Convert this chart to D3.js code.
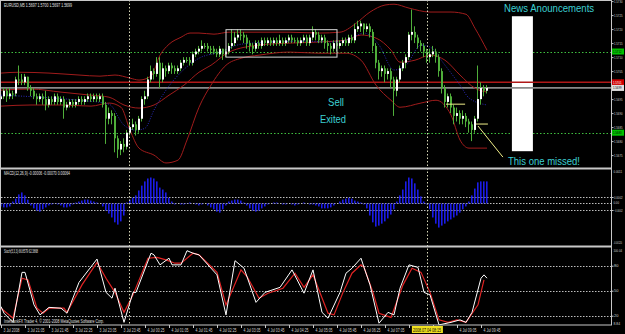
<!DOCTYPE html>
<html>
<head>
<meta charset="utf-8">
<script src="https://cdn.jsdelivr.net/npm/d3@7"></script>
<style>
html, body { margin: 0; padding: 0; background: #000; }
svg { display: block; }
text { font-family: "Liberation Sans", Arial, sans-serif; }
</style>
</head>
<body>
<svg id="chart" width="625" height="334"></svg>
<script>
// EURUSD M5, 3-4 Jul 2008 (163 bars)
const candleClose = [
  1.5696,1.5698,1.5696,1.5697,1.5697,1.5702,1.5702,1.5701,1.5703,1.5699,
  1.5698,1.5696,1.5695,1.5696,1.5695,1.5693,1.5695,1.5694,1.5696,1.5694,
  1.5695,1.5692,1.5693,1.5694,1.5693,1.5694,1.5695,1.5694,1.5695,1.5696,
  1.5695,1.5696,1.5695,1.5696,1.5693,1.5688,1.5690,1.5689,1.5681,1.5677,
  1.5679,1.5678,1.5683,1.5685,1.5686,1.5684,1.5688,1.5695,1.5696,1.5702,
  1.5705,1.5704,1.5708,1.5702,1.5706,1.5705,1.5707,1.5706,1.5705,1.5706,
  1.5708,1.5709,1.5709,1.5708,1.5711,1.5712,1.5713,1.5714,1.5714,1.5713,
  1.5713,1.5712,1.5711,1.5713,1.5711,1.5712,1.5714,1.5715,1.5717,1.5718,
  1.5718,1.5717,1.5715,1.5714,1.5713,1.5715,1.5714,1.5716,1.5715,1.5716,
  1.5715,1.5716,1.5715,1.5716,1.5715,1.5716,1.5717,1.5716,1.5716,1.5715,
  1.5716,1.5717,1.5715,1.5717,1.5719,1.5718,1.5716,1.5717,1.5715,1.5714,
  1.5713,1.5715,1.5714,1.5715,1.5716,1.5715,1.5717,1.5716,1.5720,1.5721,
  1.5722,1.5720,1.5721,1.5719,1.5714,1.5708,1.5705,1.5706,1.5704,1.5705,
  1.5702,1.5698,1.5702,1.5706,1.5708,1.5710,1.5718,1.5719,1.5717,1.5715,
  1.5714,1.5712,1.5710,1.5711,1.5712,1.5710,1.5705,1.5699,1.5694,1.5696,
  1.5692,1.5689,1.5690,1.5688,1.5689,1.5687,1.5686,1.5684,1.5688,1.5695,
  1.5699,1.5698,1.5699
];
const candleOpen = [
  1.5695,1.5696,1.5698,1.5696,1.5697,1.5697,1.5702,1.5702,1.5701,1.5703,
  1.5699,1.5698,1.5696,1.5695,1.5696,1.5695,1.5693,1.5695,1.5694,1.5696,
  1.5694,1.5695,1.5692,1.5693,1.5694,1.5693,1.5694,1.5695,1.5694,1.5695,
  1.5696,1.5695,1.5696,1.5695,1.5696,1.5693,1.5688,1.5690,1.5689,1.5681,
  1.5677,1.5679,1.5678,1.5683,1.5685,1.5686,1.5684,1.5688,1.5695,1.5696,
  1.5702,1.5705,1.5704,1.5708,1.5702,1.5706,1.5705,1.5707,1.5706,1.5705,
  1.5706,1.5708,1.5709,1.5709,1.5708,1.5711,1.5712,1.5713,1.5714,1.5714,
  1.5713,1.5713,1.5712,1.5711,1.5713,1.5711,1.5712,1.5714,1.5715,1.5717,
  1.5718,1.5718,1.5717,1.5715,1.5714,1.5713,1.5715,1.5714,1.5716,1.5715,
  1.5716,1.5715,1.5716,1.5715,1.5716,1.5715,1.5716,1.5717,1.5716,1.5716,
  1.5715,1.5716,1.5717,1.5715,1.5717,1.5719,1.5718,1.5716,1.5717,1.5715,
  1.5714,1.5713,1.5715,1.5714,1.5715,1.5716,1.5715,1.5717,1.5716,1.5720,
  1.5721,1.5722,1.5720,1.5721,1.5719,1.5714,1.5708,1.5705,1.5706,1.5704,
  1.5705,1.5702,1.5698,1.5702,1.5706,1.5708,1.5710,1.5718,1.5719,1.5717,
  1.5715,1.5714,1.5712,1.5710,1.5711,1.5712,1.5710,1.5705,1.5699,1.5694,
  1.5696,1.5692,1.5689,1.5690,1.5688,1.5689,1.5687,1.5686,1.5684,1.5688,
  1.5695,1.5699,1.5698
];
const candleHigh = [
  1.5698,1.5699,1.5699,1.5699,1.5698,1.5703,1.5707,1.5704,1.5704,1.5703,
  1.5700,1.5699,1.5697,1.5697,1.5697,1.5698,1.5696,1.5696,1.5697,1.5697,
  1.5696,1.5696,1.5694,1.5695,1.5695,1.5695,1.5696,1.5696,1.5696,1.5697,
  1.5697,1.5697,1.5697,1.5697,1.5697,1.5694,1.5692,1.5691,1.5690,1.5682,
  1.5680,1.5681,1.5684,1.5687,1.5688,1.5687,1.5689,1.5696,1.5698,1.5703,
  1.5707,1.5706,1.5710,1.5710,1.5708,1.5707,1.5708,1.5708,1.5707,1.5707,
  1.5709,1.5710,1.5710,1.5710,1.5712,1.5713,1.5714,1.5716,1.5715,1.5715,
  1.5714,1.5714,1.5713,1.5714,1.5713,1.5713,1.5715,1.5720,1.5719,1.5720,
  1.5720,1.5719,1.5718,1.5716,1.5715,1.5716,1.5716,1.5717,1.5717,1.5717,
  1.5717,1.5717,1.5717,1.5718,1.5717,1.5717,1.5718,1.5718,1.5717,1.5717,
  1.5717,1.5718,1.5718,1.5718,1.5721,1.5720,1.5719,1.5718,1.5718,1.5716,
  1.5715,1.5716,1.5716,1.5716,1.5717,1.5717,1.5718,1.5718,1.5722,1.5723,
  1.5723,1.5722,1.5722,1.5722,1.5720,1.5715,1.5709,1.5707,1.5707,1.5706,
  1.5706,1.5703,1.5703,1.5707,1.5709,1.5711,1.5719,1.5727,1.5721,1.5718,
  1.5716,1.5715,1.5713,1.5713,1.5714,1.5713,1.5711,1.5706,1.5700,1.5697,
  1.5697,1.5693,1.5692,1.5691,1.5691,1.5690,1.5688,1.5687,1.5689,1.5707,
  1.5701,1.5700,1.5700
];
const candleLow = [
  1.5694,1.5695,1.5694,1.5695,1.5695,1.5696,1.5700,1.5700,1.5700,1.5698,
  1.5696,1.5695,1.5693,1.5694,1.5693,1.5691,1.5692,1.5693,1.5693,1.5693,
  1.5693,1.5688,1.5691,1.5692,1.5692,1.5692,1.5693,1.5693,1.5693,1.5694,
  1.5694,1.5694,1.5694,1.5694,1.5692,1.5679,1.5686,1.5686,1.5676,1.5674,
  1.5675,1.5676,1.5677,1.5682,1.5684,1.5682,1.5683,1.5687,1.5693,1.5695,
  1.5701,1.5702,1.5703,1.5699,1.5701,1.5703,1.5704,1.5704,1.5704,1.5704,
  1.5705,1.5707,1.5708,1.5707,1.5707,1.5710,1.5711,1.5712,1.5713,1.5712,
  1.5711,1.5711,1.5710,1.5710,1.5709,1.5710,1.5711,1.5713,1.5714,1.5716,
  1.5716,1.5715,1.5713,1.5712,1.5711,1.5712,1.5713,1.5713,1.5714,1.5714,
  1.5714,1.5714,1.5714,1.5714,1.5714,1.5714,1.5715,1.5715,1.5715,1.5714,
  1.5714,1.5715,1.5714,1.5714,1.5716,1.5716,1.5715,1.5715,1.5713,1.5712,
  1.5711,1.5712,1.5712,1.5713,1.5714,1.5714,1.5714,1.5715,1.5715,1.5719,
  1.5719,1.5718,1.5719,1.5717,1.5712,1.5706,1.5702,1.5703,1.5701,1.5702,
  1.5699,1.5689,1.5696,1.5701,1.5705,1.5706,1.5709,1.5716,1.5715,1.5713,
  1.5712,1.5710,1.5708,1.5708,1.5710,1.5708,1.5703,1.5697,1.5692,1.5692,
  1.5690,1.5686,1.5687,1.5686,1.5686,1.5685,1.5683,1.5680,1.5683,1.5687,
  1.5693,1.5696,1.5697
];

// Bollinger bands and moving average, [bar, price]
const bbUpper = [[0,1.57043],[6,1.57046],[16,1.57043],[26,1.57036],[33,1.57032],[38,1.57036],[43,1.57025],[46,1.57018],[50,1.57032],[53,1.57107],[56,1.57146],[60,1.57171],[63,1.57186],[66,1.57186],[71,1.57182],[76,1.57189],[86,1.57189],[96,1.57189],[106,1.57186],[113,1.57189],[118,1.57218],[123,1.57261],[128,1.57286],[131,1.57289],[136,1.57275],[143,1.57261],[150,1.57261],[155,1.57253],[158,1.57203],[162,1.57125]];
const bbMiddle = [[0,1.56982],[10,1.56986],[20,1.56975],[30,1.56964],[36,1.56957],[41,1.56929],[46,1.56918],[51,1.56929],[56,1.56964],[61,1.57000],[66,1.57046],[70,1.57071],[76,1.57118],[86,1.57143],[96,1.57150],[106,1.57154],[115,1.57161],[120,1.57179],[125,1.57168],[130,1.57125],[133,1.57082],[138,1.57089],[143,1.57107],[148,1.57089],[153,1.57036],[158,1.56989],[162,1.56975]];
const bbLower = [[0,1.56925],[10,1.56929],[20,1.56929],[30,1.56925],[36,1.56936],[40,1.56921],[43,1.56839],[46,1.56775],[51,1.56750],[55,1.56722],[59,1.56732],[62,1.56804],[66,1.56921],[70,1.57000],[75,1.57071],[80,1.57096],[86,1.57107],[96,1.57118],[106,1.57114],[115,1.57114],[120,1.57089],[125,1.57000],[130,1.56946],[133,1.56921],[140,1.56936],[145,1.56946],[150,1.56893],[153,1.56804],[156,1.56775],[162,1.56775]];
const maBlue = [[0,1.56964],[13,1.56957],[26,1.56946],[36,1.56932],[41,1.56857],[45,1.56839],[48,1.56846],[51,1.56911],[55,1.56982],[60,1.57046],[66,1.57096],[73,1.57118],[80,1.57146],[90,1.57154],[100,1.57157],[110,1.57154],[116,1.57164],[121,1.57186],[126,1.57143],[131,1.57054],[135,1.57071],[140,1.57143],[143,1.57136],[148,1.57071],[153,1.57000],[156,1.56954],[162,1.56929]];

// MACD histogram, one value per bar
const macdHist = [
  -0.00009,-0.00012,-0.00012,-0.00009,0.00006,0.00015,0.00028,0.00034,0.00025,0.00012,
  -0.00006,-0.00015,-0.00022,-0.00025,-0.00018,-0.00012,-0.00006,-0.00003,0.00001,-0.00003,
  -0.00006,-0.00012,-0.00012,-0.00009,-0.00003,0.00003,0.00006,0.00009,0.00012,0.00012,
  0.00009,0.00006,0.00003,0.00000,-0.00009,-0.00022,-0.00031,-0.00043,-0.00058,-0.00065,
  -0.00055,-0.00037,0.00003,0.00012,0.00018,0.00025,0.00040,0.00055,0.00068,0.00077,
  0.00080,0.00077,0.00068,0.00049,0.00043,0.00034,0.00018,0.00006,-0.00003,0.00000,
  -0.00003,-0.00003,0.00001,0.00003,0.00000,-0.00003,-0.00006,-0.00003,0.00000,-0.00006,
  -0.00012,-0.00018,-0.00025,-0.00028,-0.00018,-0.00006,0.00006,0.00009,0.00012,0.00012,
  0.00009,0.00003,-0.00006,-0.00015,-0.00022,-0.00025,-0.00022,-0.00015,-0.00009,-0.00003,
  0.00000,0.00003,0.00003,0.00000,-0.00003,-0.00003,0.00000,-0.00003,-0.00006,-0.00003,
  0.00000,0.00003,0.00000,-0.00003,-0.00003,-0.00006,-0.00009,-0.00015,-0.00015,-0.00015,
  -0.00012,-0.00006,0.00000,0.00006,0.00012,0.00015,0.00018,0.00015,0.00009,0.00006,
  0.00003,-0.00003,-0.00015,-0.00037,-0.00058,-0.00071,-0.00068,-0.00062,-0.00055,-0.00046,
  -0.00034,-0.00018,0.00006,0.00025,0.00043,0.00068,0.00080,0.00077,0.00062,0.00043,
  0.00022,0.00006,-0.00003,-0.00018,-0.00043,-0.00062,-0.00074,-0.00068,-0.00062,-0.00055,
  -0.00049,-0.00043,-0.00037,-0.00028,-0.00018,-0.00009,0.00006,0.00025,0.00046,0.00065,
  0.00068,0.00068,0.00068
];

// Stochastic %K (white) and %D (red), [bar, value]
const stochK = [[0,31],[1,23],[4,12],[7,72],[8,72],[11,33],[13,21],[16,30],[20,29],[22,23],[26,60],[32,88],[35,48],[37,41],[38,53],[41,12],[44,48],[45,48],[50,95],[51,93],[53,81],[56,89],[57,81],[60,81],[62,98],[64,95],[66,93],[72,69],[75,21],[78,86],[81,77],[85,36],[88,48],[93,54],[97,75],[101,47],[104,75],[106,41],[107,24],[109,17],[113,48],[115,71],[117,77],[120,89],[121,78],[123,57],[126,11],[129,24],[131,21],[133,53],[136,81],[139,78],[141,48],[143,45],[146,9],[150,12],[153,15],[155,12],[157,24],[160,65],[161,69],[162,65]];
const stochD = [[0,29],[4,17],[7,65],[9,63],[12,29],[14,23],[16,29],[21,29],[22,24],[27,57],[32,84],[35,65],[38,48],[41,24],[44,45],[49,89],[52,90],[55,87],[58,83],[60,83],[64,95],[66,93],[72,72],[75,33],[80,75],[82,67],[86,41],[89,47],[94,53],[98,71],[101,54],[104,69],[109,23],[111,21],[114,48],[117,71],[120,81],[121,78],[124,48],[126,23],[130,18],[134,57],[137,77],[140,72],[143,48],[146,15],[149,12],[152,15],[155,12],[159,33],[161,63]];

// axes
const priceTicks = [1.5730,1.5725,1.5720,1.5715,1.5710,1.5705,1.5695,1.5690,1.5685,1.5680,1.5675];
const priceMarks = [
  {price: 1.5712, fill: '#00c000', text: '#000'},
  {price: 1.5701, fill: '#d00000', text: '#fff'},
  {price: 1.5699, fill: '#e0e0e0', text: '#000'},
  {price: 1.5683, fill: '#00c000', text: '#000'}
];
const macdTicks = [0.0002, -0.0002];
const macdEdgeLabels = [['0.0011', 173], ['0.00', 203.5], ['-0.00120', 244]];
const stochLevels = [80, 50, 20];
const stochEdgeLabels = [['100.04', 251.5], ['8.84', 324.5]];
const timeLabels = ['3 Jul 2008','3 Jul 21:05','3 Jul 21:45','3 Jul 22:25','3 Jul 23:05','3 Jul 23:45',
  '4 Jul 00:25','4 Jul 01:05','4 Jul 01:45','4 Jul 02:25','4 Jul 03:05','4 Jul 03:45','4 Jul 04:25',
  '4 Jul 05:05','4 Jul 05:45','4 Jul 06:25','4 Jul 07:05','4 Jul 07:45','4 Jul 08:25','4 Jul 09:05','4 Jul 09:45'];
const barsPerLabel = 8;
const daySeparatorBar = 43;
const crosshairBar = 142.3;
const crosshairLabel = '2008.07.04 08:15';

// drawn objects
const boxBars = [75, 112], boxPrices = [1.57198, 1.57100];
const newsBars = [170.3, 177.3], newsPrices = [1.57246, 1.56764];
const yellowLines = [
  [[148.3, 1.56932], [154.7, 1.56932]],
  [[158.3, 1.56861], [162.3, 1.56861]],
  [[159.0, 1.56854], [167.3, 1.56743]]
];
const notes = [
  {text: 'News Anouncements', bar: 167.7, price: 1.57261, len: 90},
  {text: 'Sell', bar: 109, price: 1.56925, len: 16},
  {text: 'Exited', bar: 106.3, price: 1.56864, len: 26},
  {text: 'This one missed!', bar: 169, price: 1.56714, len: 72}
];

const svg = d3.select('#chart');
const W = 625, H = 334, right = 611;
const fs = 5;

const x = d3.scaleLinear().domain([0, 162]).range([1, 487]);
const yMain = d3.scaleLinear().domain([1.56704, 1.57304]).range([168, 0]);
const yMacd = d3.scaleLinear().domain([-0.0013077, 0.0010615]).range([246, 169]);
const yStoch = d3.scaleLinear().domain([8.84, 100.04]).range([325, 249]);

function tinyText(parent, tx, ty, str, len, fill, size) {
  return parent.append('text').attr('x', tx).attr('y', ty)
    .attr('font-size', size || fs).attr('fill', fill || '#d0d0d0')
    .attr('textLength', len).attr('lengthAdjust', 'spacingAndGlyphs')
    .text(str);
}

svg.append('rect').attr('width', W).attr('height', H).attr('fill', '#000');

const defs = svg.append('defs');
[['clipMain', 0, 168], ['clipMacd', 169, 246], ['clipStoch', 247, 325]].forEach(c => {
  defs.append('clipPath').attr('id', c[0]).append('rect')
    .attr('x', 1).attr('y', c[1]).attr('width', right - 1).attr('height', c[2] - c[1]);
});

// ---------- main panel ----------
const main = svg.append('g').attr('clip-path', 'url(#clipMain)');

[1.5712, 1.5683].forEach(p => {
  main.append('line').attr('x1', 1).attr('x2', right)
    .attr('y1', Math.round(yMain(p)) + 0.5).attr('y2', Math.round(yMain(p)) + 0.5)
    .attr('stroke', '#3fbf3f').attr('stroke-dasharray', '1.5,2');
});

main.append('rect')
  .attr('x', x(newsBars[0])).attr('y', yMain(newsPrices[0]))
  .attr('width', x(newsBars[1]) - x(newsBars[0]))
  .attr('height', yMain(newsPrices[1]) - yMain(newsPrices[0]))
  .attr('fill', '#fff');

main.append('line').attr('x1', 1).attr('x2', right)
  .attr('y1', yMain(1.5701)).attr('y2', yMain(1.5701))
  .attr('stroke', '#b01818').attr('stroke-width', 1.6);
main.append('line').attr('x1', 1).attr('x2', right)
  .attr('y1', yMain(1.5699)).attr('y2', yMain(1.5699))
  .attr('stroke', '#8a8a8a').attr('stroke-width', 1.6);

const priceLine = d3.line().x(d => x(d[0])).y(d => yMain(d[1])).curve(d3.curveMonotoneX);
[bbUpper, bbMiddle, bbLower].forEach(band => {
  main.append('path').attr('d', priceLine(band)).attr('fill', 'none')
    .attr('stroke', '#a01c1c').attr('stroke-width', 1);
});
main.append('path').attr('d', priceLine(maBlue)).attr('fill', 'none')
  .attr('stroke', '#2a2ab8').attr('stroke-width', 1).attr('stroke-dasharray', '1,1.5');

const bars = d3.range(candleClose.length);
const candle = main.selectAll('g.candle').data(bars).join('g').attr('class', 'candle');
candle.append('line')
  .attr('x1', i => x(i) - 0.5).attr('x2', i => x(i) - 0.5)
  .attr('y1', i => yMain(candleHigh[i])).attr('y2', i => yMain(candleLow[i]))
  .attr('stroke', '#4fae3a').attr('stroke-width', 1);
candle.append('rect')
  .attr('x', i => x(i) - 1)
  .attr('width', 2)
  .attr('y', i => yMain(Math.max(candleOpen[i], candleClose[i])))
  .attr('height', i => Math.max(1, Math.abs(yMain(candleOpen[i]) - yMain(candleClose[i]))))
  .attr('fill', i => candleClose[i] > candleOpen[i] ? '#ffffff' : '#4fae3a');

main.append('rect')
  .attr('x', x(boxBars[0])).attr('y', yMain(boxPrices[0]))
  .attr('width', x(boxBars[1]) - x(boxBars[0]))
  .attr('height', yMain(boxPrices[1]) - yMain(boxPrices[0]))
  .attr('fill', 'none').attr('stroke', '#d8d8d8').attr('stroke-width', 1);

const yLine = d3.line().x(d => x(d[0])).y(d => yMain(d[1]));
yellowLines.forEach(l => {
  main.append('path').attr('d', yLine(l)).attr('fill', 'none')
    .attr('stroke', '#f2f08a').attr('stroke-width', 1);
});

notes.forEach(n => {
  main.append('text').attr('x', x(n.bar)).attr('y', yMain(n.price))
    .attr('font-size', 11).attr('fill', '#3ccfd2')
    .attr('textLength', n.len).attr('lengthAdjust', 'spacingAndGlyphs')
    .text(n.text);
});

tinyText(svg, 4, 7, 'EURUSD,M5  1.5697 1.5700 1.5697 1.5699', 68, '#e0e0e0');

// ---------- MACD panel ----------
const macd = svg.append('g').attr('clip-path', 'url(#clipMacd)');
[0.0002, 0, -0.0002].forEach(v => {
  macd.append('line').attr('x1', 1).attr('x2', right)
    .attr('y1', Math.round(yMacd(v)) + 0.5).attr('y2', Math.round(yMacd(v)) + 0.5)
    .attr('stroke', '#bdbdbd').attr('stroke-dasharray', '1.5,1.5');
});
macd.selectAll('rect.h').data(bars).join('rect').attr('class', 'h')
  .attr('x', i => x(i) - 1).attr('width', 1.6)
  .attr('y', i => yMacd(Math.max(0, macdHist[i])))
  .attr('height', i => Math.abs(yMacd(macdHist[i]) - yMacd(0)))
  .attr('fill', '#1c1ce6');
tinyText(svg, 4, 174.5, 'MACD(12,26,9) -0.00006 -0.00070 0.00064', 66, '#e0e0e0');

// ---------- Stochastic panel ----------
const stoch = svg.append('g').attr('clip-path', 'url(#clipStoch)');
stochLevels.forEach(v => {
  stoch.append('line').attr('x1', 1).attr('x2', right)
    .attr('y1', Math.round(yStoch(v)) + 0.5).attr('y2', Math.round(yStoch(v)) + 0.5)
    .attr('stroke', '#bdbdbd').attr('stroke-dasharray', '1.5,1.5');
});
const stochLine = d3.line().x(d => x(d[0])).y(d => yStoch(d[1]));
stoch.append('path').attr('d', stochLine(stochD)).attr('fill', 'none')
  .attr('stroke', '#e02424').attr('stroke-width', 1.2);
stoch.append('path').attr('d', stochLine(stochK)).attr('fill', 'none')
  .attr('stroke', '#ffffff').attr('stroke-width', 1);
tinyText(svg, 4, 252.5, 'Stoch(5,3,3) 66.8579 62.3868', 34, '#e0e0e0');
tinyText(svg, 4, 322.5, 'InterbankFX Trader 4, \u00a9 2001-2008 MetaQuotes Software Corp.', 100, '#e0e0e0');

// ---------- separators and crosshair ----------
[daySeparatorBar, crosshairBar].forEach(b => {
  svg.append('line').attr('x1', Math.round(x(b)) - 0.5).attr('x2', Math.round(x(b)) - 0.5)
    .attr('y1', 0).attr('y2', 325)
    .attr('stroke', '#d8d8b8').attr('stroke-dasharray', '1.5,2');
});

// ---------- frames ----------
svg.append('rect').attr('x', 0.5).attr('y', 0.5).attr('width', right).attr('height', 324.5)
  .attr('fill', 'none').attr('stroke', '#c8c8c8');
[168.5, 246.5].forEach(yy => {
  svg.append('line').attr('x1', 0).attr('x2', right + 1).attr('y1', yy).attr('y2', yy)
    .attr('stroke', '#c8c8c8').attr('stroke-width', 2);
});

// ---------- right axes ----------
const axisStyle = g => {
  g.select('.domain').remove();
  g.selectAll('line').attr('stroke', '#c8c8c8');
  g.selectAll('text').attr('fill', '#d0d0d0')
    .attr('font-size', function () { return this.textContent.length > 6 ? 3.4 : 4; })
    .attr('font-family', '"Liberation Sans", Arial, sans-serif')
    .attr('textLength', function () { return this.textContent.length > 3 ? 8.5 : null; })
    .attr('lengthAdjust', 'spacingAndGlyphs');
};
svg.append('g').attr('transform', `translate(${right + 0.5},0)`)
  .call(d3.axisRight(yMain).tickValues(priceTicks).tickFormat(d3.format('.4f')).tickSize(2).tickPadding(0.5))
  .call(axisStyle);

priceMarks.forEach(m => {
  const yy = yMain(m.price);
  svg.append('rect').attr('x', right + 1).attr('y', yy - 3).attr('width', 12).attr('height', 6)
    .attr('fill', m.fill);
  tinyText(svg, right + 2, yy + 1.5, d3.format('.4f')(m.price), 8.5, m.text, 4);
});

svg.append('g').attr('transform', `translate(${right + 0.5},0)`)
  .call(d3.axisRight(yMacd).tickValues(macdTicks).tickFormat(d3.format('.4f')).tickSize(2).tickPadding(0.5))
  .call(axisStyle);
macdEdgeLabels.forEach(t => {
  tinyText(svg, right + 2.5, t[1], t[0], t[0].length > 4 ? 8.5 : 5.5, null, t[0].length > 6 ? 3.2 : 4);
});

svg.append('g').attr('transform', `translate(${right + 0.5},0)`)
  .call(d3.axisRight(yStoch).tickValues(stochLevels).tickFormat(d3.format('d')).tickSize(2).tickPadding(0.5))
  .call(axisStyle);
stochEdgeLabels.forEach(t => {
  tinyText(svg, right + 2.5, t[1], t[0], t[0].length > 4 ? 8.5 : 6.5, null, 4);
});

// ---------- time axis ----------
const cx = x(crosshairBar);
const hlLeft = cx - 16, hlRight = cx + 15;
const timeAxis = svg.append('g');
timeLabels.forEach((t, k) => {
  const xx = Math.round(x(k * barsPerLabel)) + 0.5;
  timeAxis.append('line').attr('x1', xx).attr('x2', xx).attr('y1', 325).attr('y2', 328)
    .attr('stroke', '#c8c8c8');
  if (xx + 19 > hlLeft && xx < hlRight) return;
  tinyText(timeAxis, xx + 2, 332, t, k === 0 ? 16 : 17);
});
svg.append('rect').attr('x', hlLeft).attr('y', 326).attr('width', hlRight - hlLeft).attr('height', 7)
  .attr('fill', '#f0e020');
tinyText(svg, cx - 15, 332, crosshairLabel, 28, '#000');
</script>
</body>
</html>
